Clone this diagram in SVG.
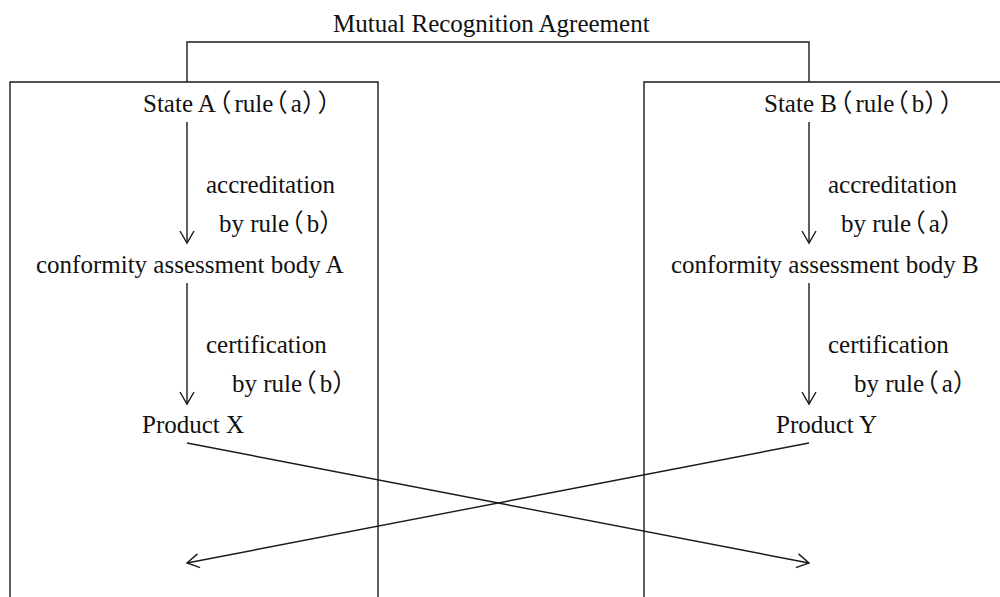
<svg xmlns="http://www.w3.org/2000/svg" width="1000" height="597" viewBox="0 0 1000 597">
  <style>
    .ln { fill: none; stroke: #1a1a1a; stroke-width: 1.4; }
    .arr { fill: none; stroke: #1a1a1a; stroke-width: 1.4; marker-end: url(#head); }
    text { font-family: "Liberation Serif", "Noto Sans CJK JP", serif; font-size: 25px; fill: #111; font-feature-settings: "halt"; }
    .p { letter-spacing: 3px; }
  </style>
  <defs>
    <marker id="head" viewBox="-14 -9 16 18" markerWidth="16" markerHeight="18" refX="0" refY="0" orient="auto" markerUnits="userSpaceOnUse">
      <path d="M-12,-7 L0,0 L-12,7" fill="none" stroke="#1a1a1a" stroke-width="1.4"/>
    </marker>
  </defs>

  <!-- agreement bracket joining the two states -->
  <g id="agreement">
    <path class="ln" d="M187,82 V42 H809 V82"/>
    <text x="333" y="32">Mutual Recognition Agreement</text>
  </g>

  <!-- state A frame and its chain -->
  <g id="stateA">
    <path class="ln" d="M10,597 V82 H378 V597"/>
    <text x="143" y="112">State A<tspan class="p" dx="3">（</tspan>rule<tspan class="p" dx="2">（</tspan>a<tspan class="p">））</tspan></text>
  </g>
  <g id="bodyA">
    <text x="36" y="273">conformity assessment body A</text>
  </g>
  <g id="productX">
    <text x="142" y="433">Product X</text>
  </g>

  <!-- state B frame and its chain -->
  <g id="stateB">
    <path class="ln" d="M644,597 V82 H1000"/>
    <text x="764" y="112">State B<tspan class="p" dx="3">（</tspan>rule<tspan class="p" dx="2">（</tspan>b<tspan class="p">））</tspan></text>
  </g>
  <g id="bodyB">
    <text x="671" y="273">conformity assessment body B</text>
  </g>
  <g id="productY">
    <text x="776" y="433">Product Y</text>
  </g>

  <!-- connectors with their labels -->
  <g id="connectors">
    <line class="arr" x1="187" y1="122" x2="187" y2="243"/>
    <line class="arr" x1="187" y1="283" x2="187" y2="404"/>
    <line class="arr" x1="809" y1="122" x2="809" y2="243"/>
    <line class="arr" x1="809" y1="283" x2="809" y2="404"/>
    <line class="arr" x1="187" y1="443" x2="809" y2="563"/>
    <line class="arr" x1="809" y1="443" x2="187" y2="563"/>

    <text x="206" y="193">accreditation</text>
    <text x="219" y="232">by rule<tspan class="p" dx="2">（</tspan>b<tspan class="p">）</tspan></text>
    <text x="206" y="353">certification</text>
    <text x="232" y="392">by rule<tspan class="p" dx="2">（</tspan>b<tspan class="p">）</tspan></text>

    <text x="828" y="193">accreditation</text>
    <text x="841" y="232">by rule<tspan class="p" dx="2">（</tspan>a<tspan class="p">）</tspan></text>
    <text x="828" y="353">certification</text>
    <text x="854" y="392">by rule<tspan class="p" dx="2">（</tspan>a<tspan class="p">）</tspan></text>
  </g>
</svg>
